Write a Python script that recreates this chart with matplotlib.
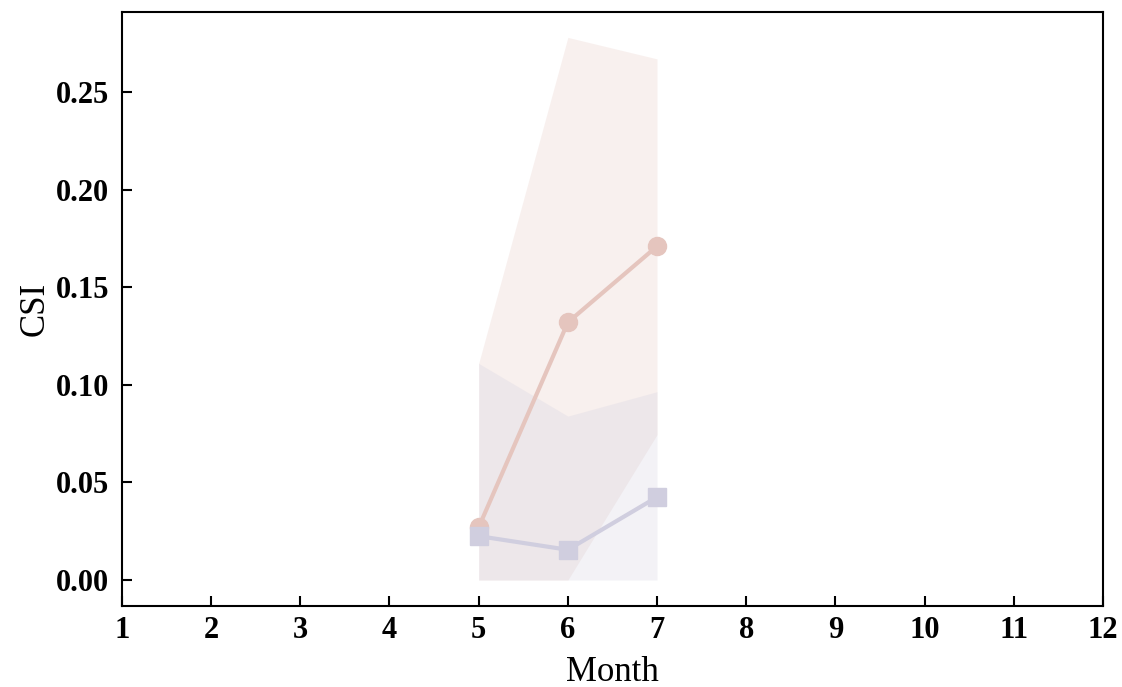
import matplotlib
matplotlib.use("Agg")
import matplotlib.pyplot as plt

plt.rcParams['font.family'] = ['Liberation Serif', 'DejaVu Serif']

months = [5, 6, 7]
csi_a = [0.027, 0.132, 0.171]
csi_a_lower = [0.0, 0.0, 0.0745]
csi_a_upper = [0.111, 0.278, 0.267]
csi_b = [0.0225, 0.0155, 0.0425]
csi_b_lower = [0.0, 0.0, 0.0]
csi_b_upper = [0.111, 0.084, 0.0965]
xticks = list(range(1, 13))
yticks = [0.00, 0.05, 0.10, 0.15, 0.20, 0.25]

color_a = '#e5c5be'
color_b = '#d0cedf'

fig = plt.figure(figsize=(11.22, 6.87), dpi=100)
ax = fig.add_axes([0.1087, 0.1179, 0.8743, 0.8646])

ax.fill_between(months, csi_a_lower, csi_a_upper, color=color_a, alpha=0.25, linewidth=0)
ax.fill_between(months, csi_b_lower, csi_b_upper, color=color_b, alpha=0.25, linewidth=0)
ax.plot(months, csi_a, color=color_a, marker='o', markersize=13, linewidth=3)
ax.plot(months, csi_b, color=color_b, marker='s', markersize=12.5, linewidth=3)

ax.set_xlim(1, 12)
ax.set_ylim(-0.0133, 0.291)
ax.set_xticks(xticks)
ax.set_yticks(yticks)
ax.set_yticklabels([f"{v:.2f}" for v in yticks])
ax.tick_params(direction='in', length=7, width=1.5, labelsize=22)
ax.tick_params(axis='x', pad=7)
ax.tick_params(axis='y', pad=9)
for lab in ax.get_xticklabels() + ax.get_yticklabels():
    lab.set_fontweight('bold')
for s in ax.spines.values():
    s.set_linewidth(1.5)
ax.set_xlabel('Month', fontsize=25, labelpad=8)
ax.set_ylabel('CSI', fontsize=25, labelpad=3)

fig.savefig('out.png', dpi=100)
